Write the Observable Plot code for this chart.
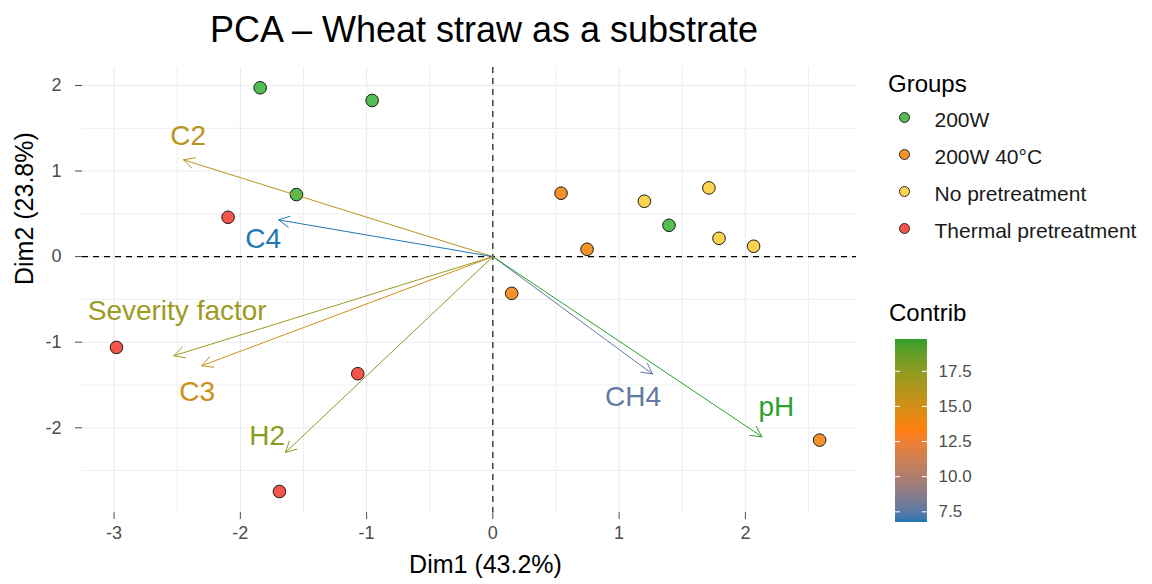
<!DOCTYPE html>
<html><head><meta charset="utf-8">
<script src="https://cdn.jsdelivr.net/npm/d3@7"></script>
<script src="https://cdn.jsdelivr.net/npm/@observablehq/plot@0.6"></script>
<style>
body{margin:0;background:#fff;}
#wrap{position:relative;width:1152px;height:584px;overflow:hidden;font-family:"Liberation Sans",Arial,sans-serif;background:#fff;}
.abs{position:absolute;}
#title{left:0;width:968px;top:12px;text-align:center;font-size:36px;line-height:36px;color:#000;white-space:nowrap;}
.lt{font-size:24px;line-height:24px;color:#000;white-space:nowrap;}
</style></head><body>
<div id="wrap">
  <div id="main" class="abs" style="left:0;top:0"></div>
  <div id="title" class="abs">PCA – Wheat straw as a substrate</div>
  <div class="abs lt" style="left:888px;top:72px">Groups</div>
  <div id="groups" class="abs" style="left:870px;top:0"></div>
  <div class="abs lt" style="left:889px;top:301px">Contrib</div>
  <div id="bar" class="abs" style="left:895px;top:0"></div>
</div>
<script>
// ---- data ----
const indX = [-1.843, -0.956, -1.556, 1.395, 0.540, 0.746, 0.149, 2.588, 1.200, 1.711, 1.791, 2.065, -2.097, -2.981, -1.070, -1.690];
const indY = [1.973, 1.825, 0.725, 0.366, 0.741, 0.086, -0.429, -2.144, 0.647, 0.803, 0.214, 0.121, 0.460, -1.061, -1.368, -2.745];
const indGroup = ["200W","200W","200W","200W","200W 40°C","200W 40°C","200W 40°C","200W 40°C",
  "No pretreatment","No pretreatment","No pretreatment","No pretreatment",
  "Thermal pretreatment","Thermal pretreatment","Thermal pretreatment","Thermal pretreatment"];
const groups = ["200W","200W 40°C","No pretreatment","Thermal pretreatment"];
const groupColors = ["#52BE52","#F6922A","#FDD34F","#F4554C"];

const varNames = ["C2","C4","Severity factor","C3","H2","CH4","pH"];
const varX = [-2.450, -1.696, -2.527, -2.306, -1.643, 1.265, 2.131];
const varY = [1.131, 0.429, -1.158, -1.275, -2.289, -1.372, -2.105];
const varContrib = [16.0, 6.74, 17.0, 15.3, 17.5, 7.67, 19.76];
const labelX = [-2.413, -1.819, -2.500, -2.342, -1.788, 1.110, 2.245];
const labelY = [1.404, 0.207, -0.632, -1.587, -2.094, -1.645, -1.762];

const xTicks = [-3, -2, -1, 0, 1, 2];
const xMinor = [-2.5, -1.5, -0.5, 0.5, 1.5, 2.5];
const yTicks = [-2, -1, 0, 1, 2];
const yMinor = [-2.5, -1.5, -0.5, 0.5, 1.5];
const barTicks = [7.5, 10, 12.5, 15, 17.5];
const xTitle = "Dim1 (43.2%)";
const yTitle = "Dim2 (23.8%)";

// ---- tables ----
const inds = indX.map((x, i) => ({x, y: indY[i], group: indGroup[i], color: groupColors[groups.indexOf(indGroup[i])]}));
const vars = varNames.map((name, i) => ({name, x: varX[i], y: varY[i], contrib: varContrib[i], lx: labelX[i], ly: labelY[i]}));

const cMin = d3.min(varContrib), cMax = d3.max(varContrib);
const colorOpts = {type: "linear", domain: [cMin, (cMin + cMax) / 2, cMax], range: ["#1F77B4", "#FF7F0E", "#2CA02C"], interpolate: "lab"};
const font = '"Liberation Sans", Arial, sans-serif';

const main = Plot.plot({
  width: 870, height: 584,
  marginLeft: 82, marginRight: 14, marginTop: 67, marginBottom: 72,
  style: {fontFamily: font, fontSize: "18px", color: "#4D4D4D", background: "transparent", overflow: "visible"},
  x: {domain: [-3.25, 2.88], ticks: xTicks, tickSize: 7, tickPadding: 7, tickFormat: d => String(d), label: null},
  y: {domain: [-2.99, 2.21], ticks: yTicks, tickSize: 7, tickPadding: 14, tickFormat: d => String(d), label: null},
  color: colorOpts,
  marks: [
    Plot.ruleX(xMinor, {stroke: "#EBEBEB", strokeWidth: 0.8}),
    Plot.ruleY(yMinor, {stroke: "#EBEBEB", strokeWidth: 0.8}),
    Plot.ruleX(xTicks, {stroke: "#EBEBEB", strokeWidth: 1.1}),
    Plot.ruleY(yTicks, {stroke: "#EBEBEB", strokeWidth: 1.1}),
    Plot.ruleX([0], {stroke: "#000", strokeWidth: 1.1, strokeDasharray: "6,5"}),
    Plot.ruleY([0], {stroke: "#000", strokeWidth: 1.1, strokeDasharray: "6,5"}),
    Plot.dot(inds, {x: "x", y: "y", r: 6.3, fill: "color", stroke: "#1A1A1A", strokeWidth: 1}),
    Plot.arrow(vars, {x1: 0, y1: 0, x2: "x", y2: "y", stroke: "contrib", strokeWidth: 1, headLength: 18, headAngle: 55}),
    Plot.text(vars, {x: "lx", y: "ly", text: "name", fill: "contrib", fontSize: 28}),
    Plot.text([xTitle], {frameAnchor: "bottom", text: d => d, dx: 16, dy: 60, fontSize: 25, fill: "#000"}),
    Plot.text([yTitle], {frameAnchor: "left", text: d => d, rotate: -90, dx: -58, dy: -5, fontSize: 25, fill: "#000"})
  ]
});
document.getElementById("main").appendChild(main);

const grp = Plot.plot({
  width: 282, height: 260, margin: 0,
  style: {fontFamily: font, background: "transparent", overflow: "visible"},
  x: {domain: [0, 1], range: [34, 64], axis: null},
  y: {type: "point", domain: groups, range: [117, 228], padding: 0, axis: null},
  marks: [
    Plot.dot(groups, {x: 0, y: d => d, r: 5, fill: (d, i) => groupColors[i], stroke: "#1A1A1A", strokeWidth: 0.9}),
    Plot.text(groups, {x: 1, y: d => d, dy: 3, text: d => d, textAnchor: "start", fontSize: 21, fill: "#1A1A1A"})
  ]
});
document.getElementById("groups").appendChild(grp);

const nSlices = 183;
const step = (cMax - cMin) / nSlices;
const slices = d3.range(nSlices).map(i => {
  const a = cMin + step * i;
  return {a, b: Math.min(cMax, a + step * 2), m: a + step / 2};
});
const bar = Plot.plot({
  width: 120, height: 584,
  marginLeft: 0, marginRight: 88, marginTop: 339, marginBottom: 62,
  style: {fontFamily: font, fontSize: "17px", color: "#4D4D4D", background: "transparent", overflow: "visible"},
  x: {domain: [0, 1], axis: null},
  y: {domain: [cMin, cMax], ticks: barTicks, tickSize: 0, tickPadding: 11, tickFormat: d3.format(".1f"), label: null, axis: "right"},
  color: colorOpts,
  marks: [
    Plot.rect(slices, {x1: 0, x2: 1, y1: "a", y2: "b", fill: "m", shapeRendering: "crispEdges"}),
    Plot.ruleY(barTicks, {x1: 0, x2: 0.16, stroke: "white", strokeWidth: 1}),
    Plot.ruleY(barTicks, {x1: 0.84, x2: 1, stroke: "white", strokeWidth: 1})
  ]
});
document.getElementById("bar").appendChild(bar);
</script>
</body></html>
